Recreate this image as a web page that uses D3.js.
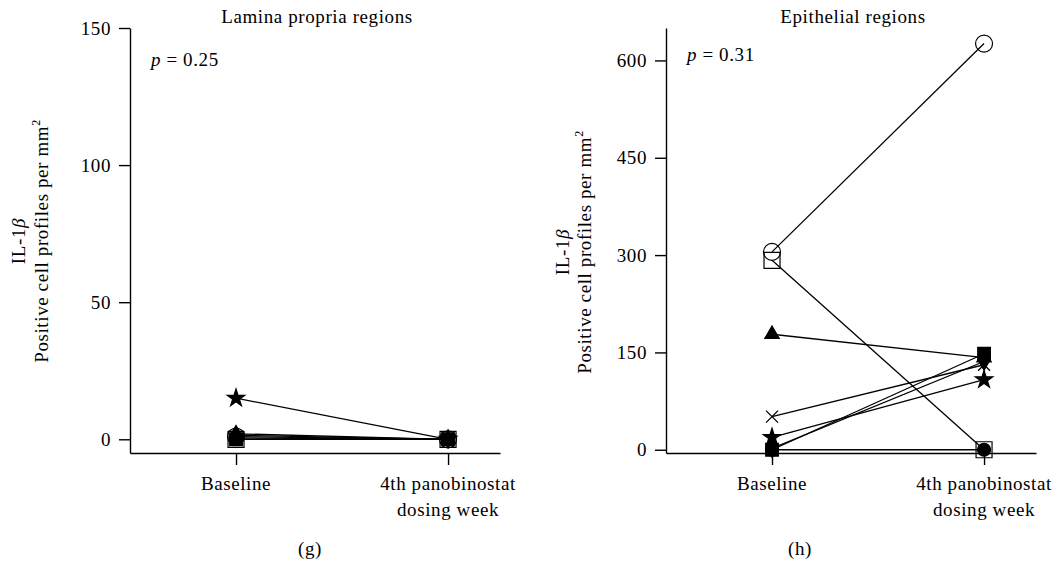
<!DOCTYPE html>
<html>
<head>
<meta charset="utf-8">
<script src="https://cdn.jsdelivr.net/npm/d3@7"></script>
<style>
  body { margin: 0; background: #fff; }
  svg text { font-family: "Liberation Serif", "Times New Roman", serif; font-size: 19px; letter-spacing: 0.6px; fill: #000; }
  .axis path, .axis line { stroke: #000; stroke-width: 1.4px; }
</style>
</head>
<body>
<script>
// time points (x categories)
var timepoints = ["Baseline", "4th panobinostat|dosing week"];

// one marker per subject
var markers = ["circleOpen", "squareOpen", "triangle", "cross", "star", "diamond", "circle", "square"];

// lamina propria regions (g)
var laminaBaseline = [1, 0, 2, 0, 15, 1.5, 0.5, 0];
var laminaWeek4    = [0, 0, 0, 0, 0, 0, 0, 0];
var laminaTicks = [0, 50, 100, 150];

// epithelial regions (h)
var epithBaseline = [305, 292, 178, 51, 19, 2, 0, 0];
var epithWeek4    = [626, 0, 142, 131, 108, 136, 0, 148];
var epithTicks = [0, 150, 300, 450, 600];

var width = 1061, height = 566;

var svg = d3.select('body')
    .append('svg')
    .attr('width', width)
    .attr('height', height);

//draw both panels
drawPanel({x0: 130, title: "Lamina propria regions", p: "0.25", pY: 66, letter: "(g)", letterX: 180,
    labX: [-105, -82], labY: 241,
    base: laminaBaseline, wk4: laminaWeek4, domain: [-5, 150], ticks: laminaTicks});
drawPanel({x0: 666, title: "Epithelial regions", p: "0.31", pY: 61, letter: "(h)", letterX: 134,
    labX: [-97, -75], labY: 252,
    base: epithBaseline, wk4: epithWeek4, domain: [-5, 650], ticks: epithTicks});

function drawPanel(opt){

    var g = svg.append('g').attr('transform', 'translate(' + opt.x0 + ',0)');

    var x = d3.scaleLinear()
        .domain([0.5, 2.245])
        .range([0, 370]);

    var y = d3.scaleLinear()
        .domain(opt.domain)
        .range([453, 28]);

    //axes
    g.append('g')
        .attr('class', 'axis')
        .call(d3.axisLeft(y).tickValues(opt.ticks).tickSize(11).tickSizeOuter(0).tickPadding(8))
        .call(function(a){ a.selectAll('text').style('font-size', '19px').style('font-family', '"Liberation Serif", serif'); });

    g.append('g')
        .attr('class', 'axis')
        .attr('transform', 'translate(0,' + y(opt.domain[0]) + ')')
        .call(d3.axisBottom(x).tickValues([1, 2]).tickFormat('').tickSize(12).tickSizeOuter(0));

    //category labels, split on |
    timepoints.forEach(function(t, i){
        var txt = g.append('text')
            .attr('text-anchor', 'middle')
            .attr('x', x(i + 1))
            .attr('y', 490);
        t.split('|').forEach(function(line, j){
            txt.append('tspan')
                .attr('x', x(i + 1))
                .attr('dy', j === 0 ? 0 : 26)
                .text(line);
        });
    });

    //title, p value, panel letter
    g.append('text')
        .attr('text-anchor', 'middle')
        .attr('x', 187)
        .attr('y', 23)
        .text(opt.title);

    var pt = g.append('text')
        .attr('x', 21)
        .attr('y', opt.pY);
    pt.append('tspan').style('font-style', 'italic').text('p');
    pt.append('tspan').text(' = ' + opt.p);

    g.append('text')
        .attr('text-anchor', 'middle')
        .attr('x', opt.letterX)
        .attr('y', 555)
        .text(opt.letter);

    //y axis label, two rotated lines
    var lab = g.append('text')
        .attr('text-anchor', 'middle')
        .attr('transform', 'translate(' + opt.labX[0] + ',' + opt.labY + ') rotate(-90)');
    lab.append('tspan').text('IL-1');
    lab.append('tspan').style('font-style', 'italic').text('β');

    var lab2 = g.append('text')
        .attr('text-anchor', 'middle')
        .attr('transform', 'translate(' + opt.labX[1] + ',' + opt.labY + ') rotate(-90)');
    lab2.append('tspan').text('Positive cell profiles per mm');
    lab2.append('tspan').attr('dy', -8).style('font-size', '12px').text('2');

    //subject lines
    var subjects = markers.map(function(m, i){
        return {marker: m, v: [opt.base[i], opt.wk4[i]]};
    });

    var line = d3.line()
        .x(function(d, i){ return x(i + 1); })
        .y(function(d){ return y(d); });

    g.selectAll('.subj')
        .data(subjects)
        .enter()
        .append('path')
        .attr('class', 'subj')
        .attr('d', function(d){ return line(d.v); })
        .attr('fill', 'none')
        .attr('stroke', '#000')
        .attr('stroke-width', 1.3);

    //markers at both time points
    var pts = [];
    subjects.forEach(function(s){
        s.v.forEach(function(v, i){ pts.push({marker: s.marker, t: i + 1, v: v}); });
    });

    g.selectAll('.pt')
        .data(pts)
        .enter()
        .append('path')
        .attr('class', 'pt')
        .attr('transform', function(d){ return 'translate(' + x(d.t) + ',' + y(d.v) + ')'; })
        .attr('d', function(d){ return markerPath(d.marker); })
        .attr('fill', function(d){ return (d.marker === 'circleOpen' || d.marker === 'squareOpen' || d.marker === 'cross') ? 'none' : '#000'; })
        .attr('stroke', '#000')
        .attr('stroke-width', function(d){ return d.marker === 'cross' ? 1.3 : 1.2; });
}

function markerPath(m){
    if (m === 'circleOpen') return d3.symbol(d3.symbolCircle, 227)();
    if (m === 'squareOpen') return d3.symbol(d3.symbolSquare, 256)();
    if (m === 'square') return d3.symbol(d3.symbolSquare, 160)();
    if (m === 'circle') return d3.symbol(d3.symbolCircle, 133)();
    if (m === 'triangle') return d3.symbol(d3.symbolTriangle, 90)();
    if (m === 'star') return d3.symbol(d3.symbolStar, 95)();
    if (m === 'diamond') return d3.symbol(d3.symbolDiamond, 90)();
    if (m === 'cross') return 'M-6,-6L6,6M-6,6L6,-6';
}
</script>
</body>
</html>
